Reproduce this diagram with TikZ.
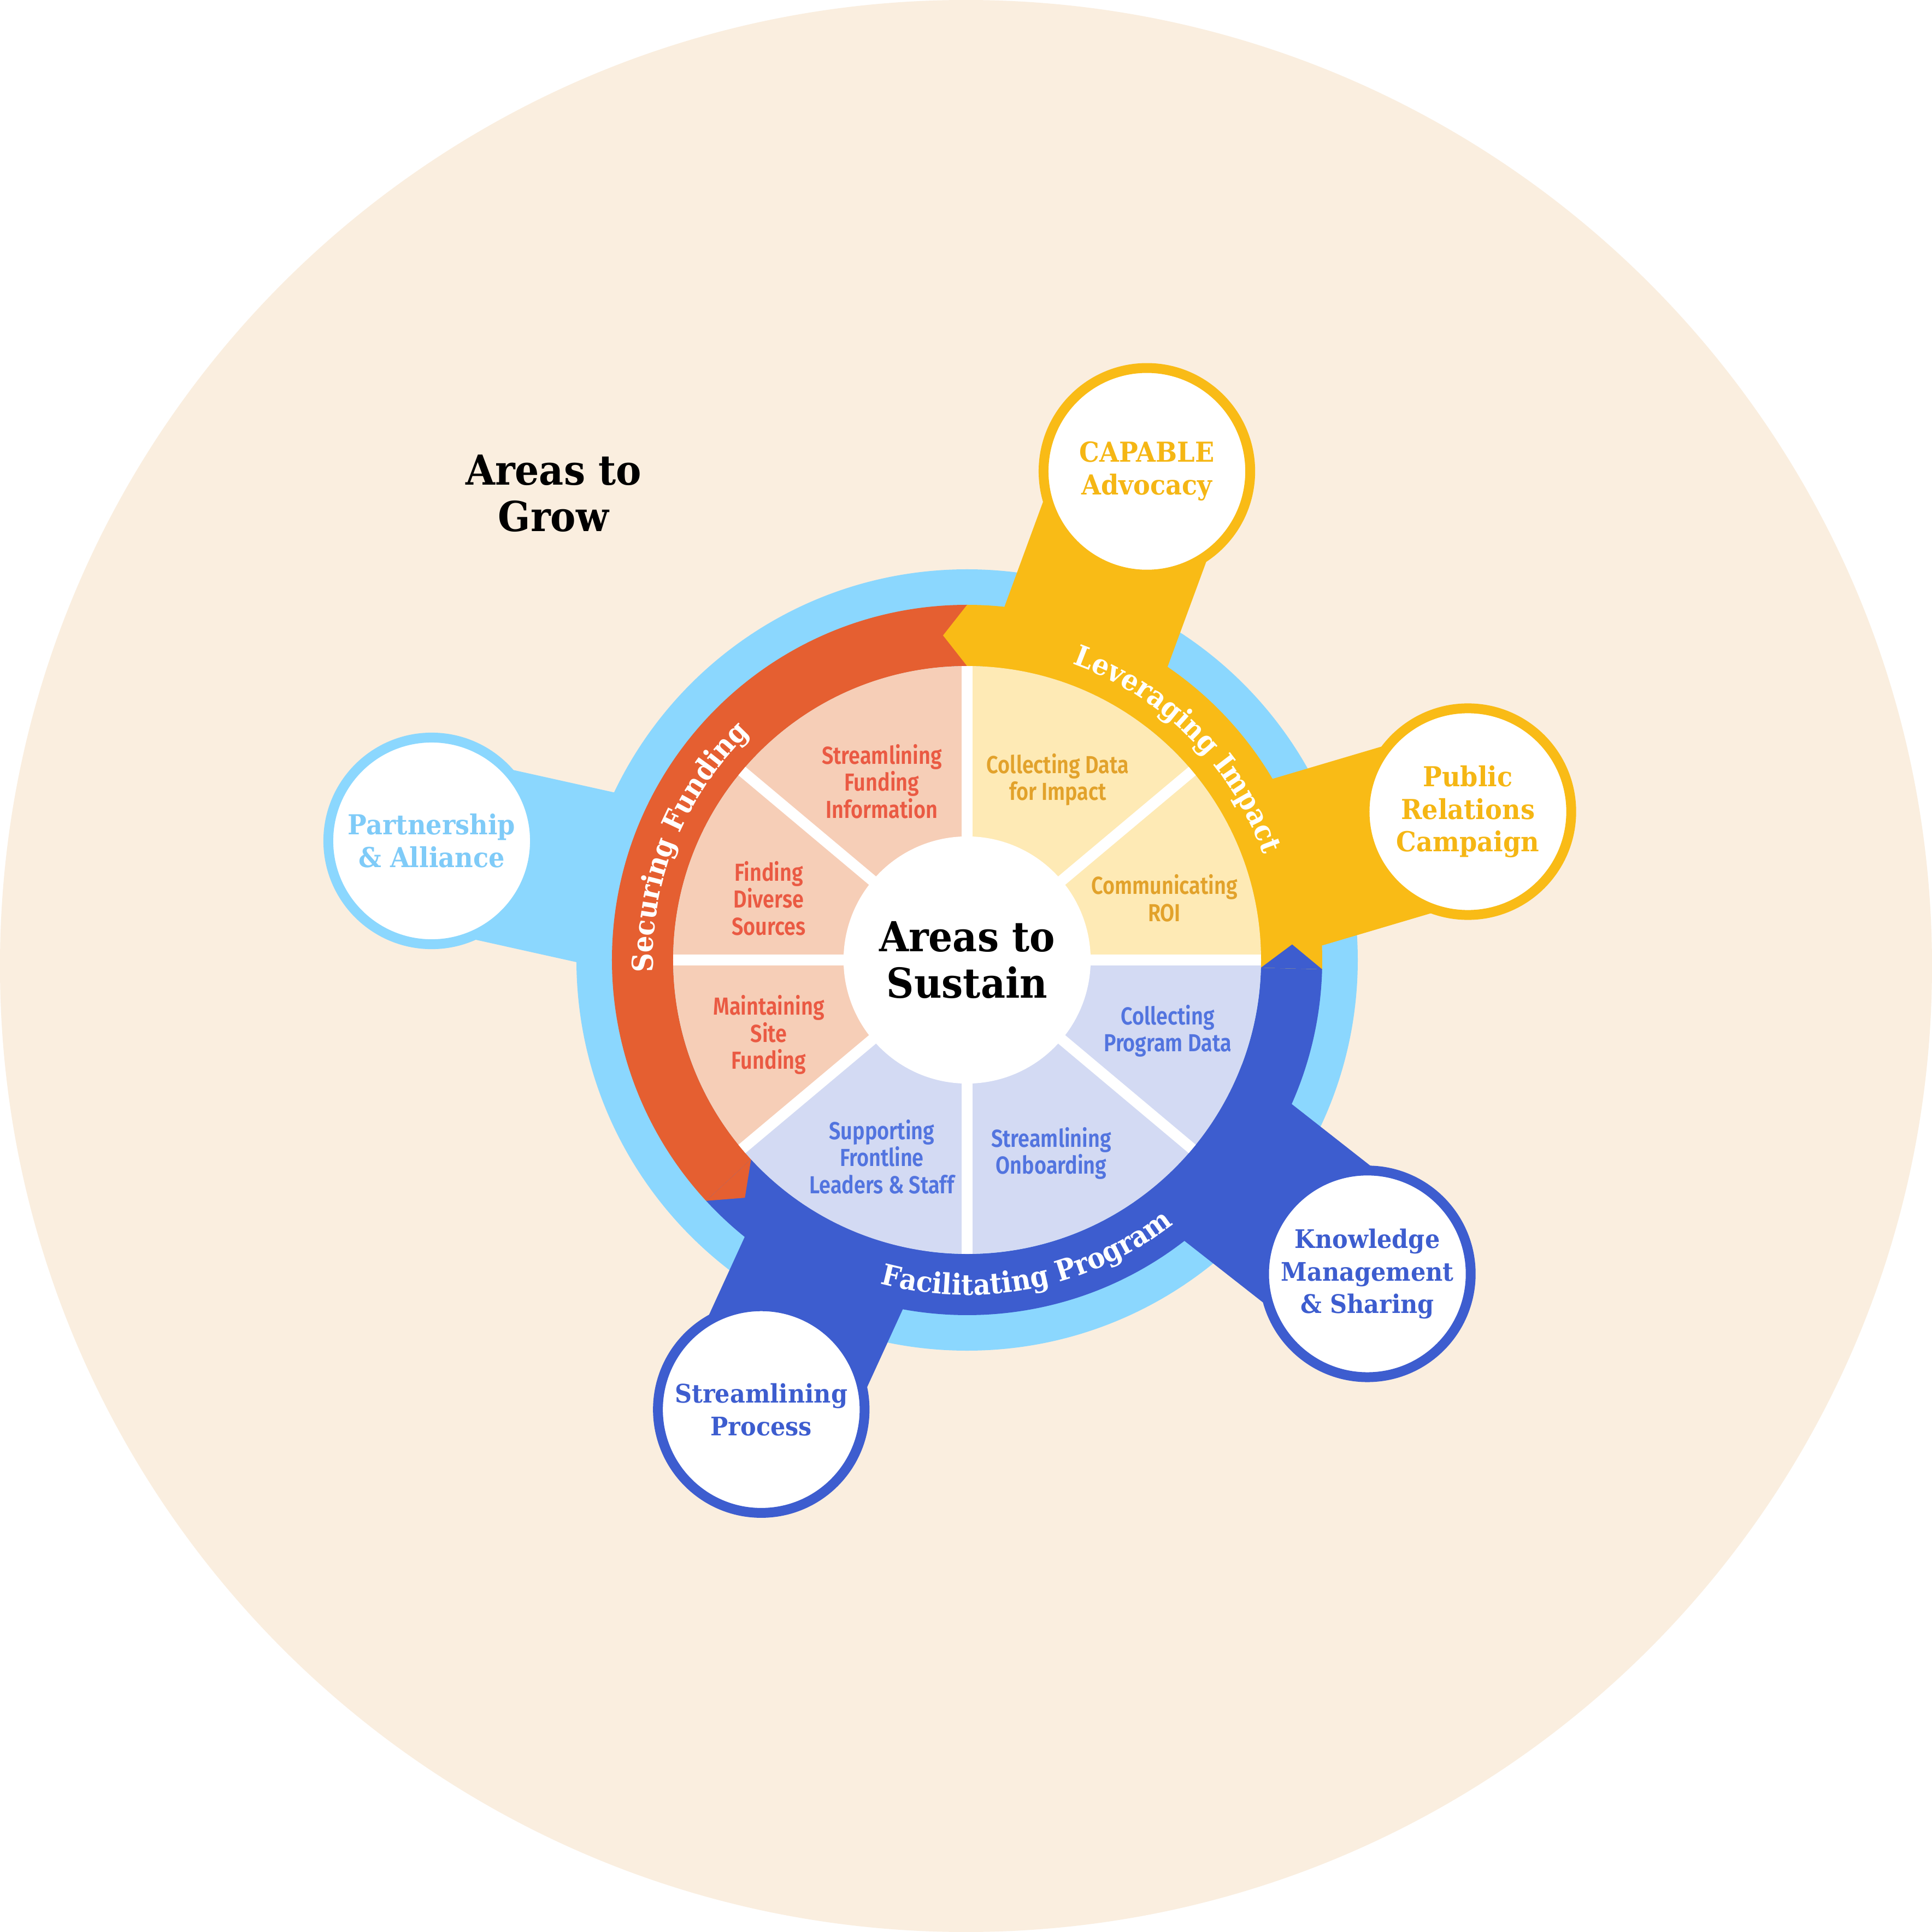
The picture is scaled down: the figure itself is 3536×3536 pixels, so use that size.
\documentclass[tikz,border=0pt]{standalone}
\usepackage{fontspec}
\usetikzlibrary{calc,decorations.text}

% Slab-style serif for headings, condensed sans for the segment labels
\newfontfamily\slabfont[FakeStretch=0.92]{DejaVu Serif}
\IfFontExistsTF{Fira Sans SemiBold}
  {\newfontfamily\wdgfont[FakeStretch=0.84]{Fira Sans SemiBold}}
  {\IfFontExistsTF{Fira Sans Medium}
     {\newfontfamily\wdgfont[FakeStretch=0.86]{Fira Sans Medium}}
     {\newfontfamily\wdgfont[FakeStretch=0.84,UprightFont=*-Bold]{Fira Sans}}}

\definecolor{bgbeige}{HTML}{FAEEDF}
\definecolor{skyring}{HTML}{8BD7FE}
\definecolor{fundorange}{HTML}{E55F31}
\definecolor{impactyellow}{HTML}{F9BB16}
\definecolor{progblue}{HTML}{3D5DCF}
\definecolor{peachseg}{HTML}{F6CEB7}
\definecolor{creamseg}{HTML}{FEEAB5}
\definecolor{lavseg}{HTML}{D3DAF3}
\definecolor{peachtext}{HTML}{EA5A43}
\definecolor{creamtext}{HTML}{E2A22B}
\definecolor{lavtext}{HTML}{5274DF}
\definecolor{yellowlabel}{HTML}{F5B614}
\definecolor{skylabel}{HTML}{7FCBF8}

\newcommand\bandtxt{\slabfont\bfseries\fontsize{15}{18}\selectfont\color{white}}

% strip joining an outer circle to the hub
\newcommand\stemstrip[2]{%
  \fill[#2] ($(#1)!1.59cm!90:(O)$) -- ($(O)!1.59cm!-90:(#1)$)
     -- ($(O)!1.59cm!90:(#1)$) -- ($(#1)!1.59cm!-90:(O)$) -- cycle;}

% annular band sector between two angles
\newcommand\bandsector[3]{%
  \fill[#3] (#1:650) arc[start angle=#1, end angle=#2, radius=650]
     -- (#2:538) arc[start angle=#2, end angle=#1, radius=538] -- cycle;}

% arrow head at the counter-clockwise end of a band
\newcommand\bandhead[2]{%
  \fill[#2] (#1:650) -- ($(#1:594)+(#1+90:44)$) -- (#1:538) -- cycle;}

\tikzset{
  wedgelabel/.style={font=\wdgfont\fontsize{12.8}{14.1}\selectfont,
    align=center, inner sep=0pt},
  outercirc/.style={circle, fill=white, line width=0.18cm,
    minimum size=3.78cm, inner sep=0pt, align=center,
    font=\slabfont\bfseries\fontsize{14.3}{17}\selectfont},
  bluecirc/.style={outercirc, draw=progblue, text=progblue,
    font=\slabfont\bfseries\fontsize{13.3}{17}\selectfont},
  yellowcirc/.style={outercirc, draw=impactyellow, text=yellowlabel},
  skycirc/.style={outercirc, draw=skyring, text=skylabel},
  divider/.style={white, line width=0.2cm},
  titletext/.style={font=\slabfont\bfseries\fontsize{21.5}{24.2}\selectfont,
    align=center, inner sep=0pt},
}

\begin{document}
\begin{tikzpicture}[x=0.01cm, y=0.01cm]
  % canvas
  \fill[white] (-1770,-1779) rectangle (1766,1757);
  \useasboundingbox (-1770,-1779) rectangle (1766,1757);
  \fill[bgbeige] (-2,-11) circle[radius=1768];

  \coordinate (O) at (0,0);
  \coordinate (capc) at (69.8:953);
  \coordinate (prc) at (16.5:956);
  \coordinate (ptc) at (167.46:1004);
  \coordinate (spc) at (245.4:905);
  \coordinate (kmc) at (-38.1:931);

  % outer sky ring
  \fill[skyring] (O) circle[radius=715];

  % strips to the outer circles
  \stemstrip{ptc}{skyring}
  \stemstrip{capc}{impactyellow}
  \stemstrip{prc}{impactyellow}
  \stemstrip{spc}{progblue}
  \stemstrip{kmc}{progblue}

  % coloured bands
  \bandsector{90}{222.7}{fundorange}
  \bandsector{222.7}{358.5}{progblue}
  \bandsector{-1.5}{90}{impactyellow}
  \bandhead{90}{impactyellow}
  \bandhead{222.7}{fundorange}
  \bandhead{-1.5}{progblue}

  % band titles
  \path[decorate, decoration={text along path, text align=center,
      text={|\bandtxt|Securing Funding}}]
    (205:575) arc[start angle=205, end angle=111, radius=575];
  \path[decorate, decoration={text along path, text align=center,
      text={|\bandtxt|Leveraging Impact}}]
    (95:575) arc[start angle=95, end angle=-5, radius=575];
  \path[decorate, decoration={text along path, text align=center,
      text={|\bandtxt|Facilitating Program}}]
    (231:613) arc[start angle=231, end angle=332, radius=613];

  % segments
  \fill[peachseg] (O) -- (90:538) arc[start angle=90, end angle=220, radius=538] -- cycle;
  \fill[lavseg] (O) -- (220:538) arc[start angle=220, end angle=360, radius=538] -- cycle;
  \fill[creamseg] (O) -- (0:538) arc[start angle=0, end angle=90, radius=538] -- cycle;
  \foreach \a in {0,40,90,140,180,220,270,320}
    \draw[divider] (O) -- (\a:538);

  \node[circle, fill=white, minimum size=4.52cm, titletext] (hub) at (O) {Areas to\\Sustain};

  % segment labels
  \node[wedgelabel, text=peachtext] (sfi) at (-156,327) {Streamlining\\Funding\\Information};
  \node[wedgelabel, text=peachtext] (fds) at (-363,113) {Finding\\Diverse\\Sources};
  \node[wedgelabel, text=peachtext] (msf) at (-363,-137) {Maintaining\\Site\\Funding};
  \node[wedgelabel, text=lavtext] (sfl) at (-156,-360) {Supporting\\Frontline\\Leaders \& Staff};
  \node[wedgelabel, text=lavtext] (sob) at (154,-354) {Streamlining\\Onboarding};
  \node[wedgelabel, text=lavtext] (cpd) at (367,-130) {Collecting\\Program Data};
  \node[wedgelabel, text=creamtext] (roi) at (361,113) {Communicating\\ROI};
  \node[wedgelabel, text=creamtext] (cdi) at (166,330) {Collecting Data\\for Impact};

  % outer circles
  \node[yellowcirc] (capable) at (capc) {CAPABLE\\Advocacy};
  \node[yellowcirc] (pr) at (prc) {Public\\Relations\\Campaign};
  \node[skycirc] (partner) at (ptc) {Partnership\\\& Alliance};
  \node[bluecirc] (process) at (spc) {Streamlining\\Process};
  \node[bluecirc] (knowledge) at (kmc) {Knowledge\\Management\\\& Sharing};

  \node[titletext] (grow) at (-757,854) {Areas to\\Grow};
\end{tikzpicture}
\end{document}
